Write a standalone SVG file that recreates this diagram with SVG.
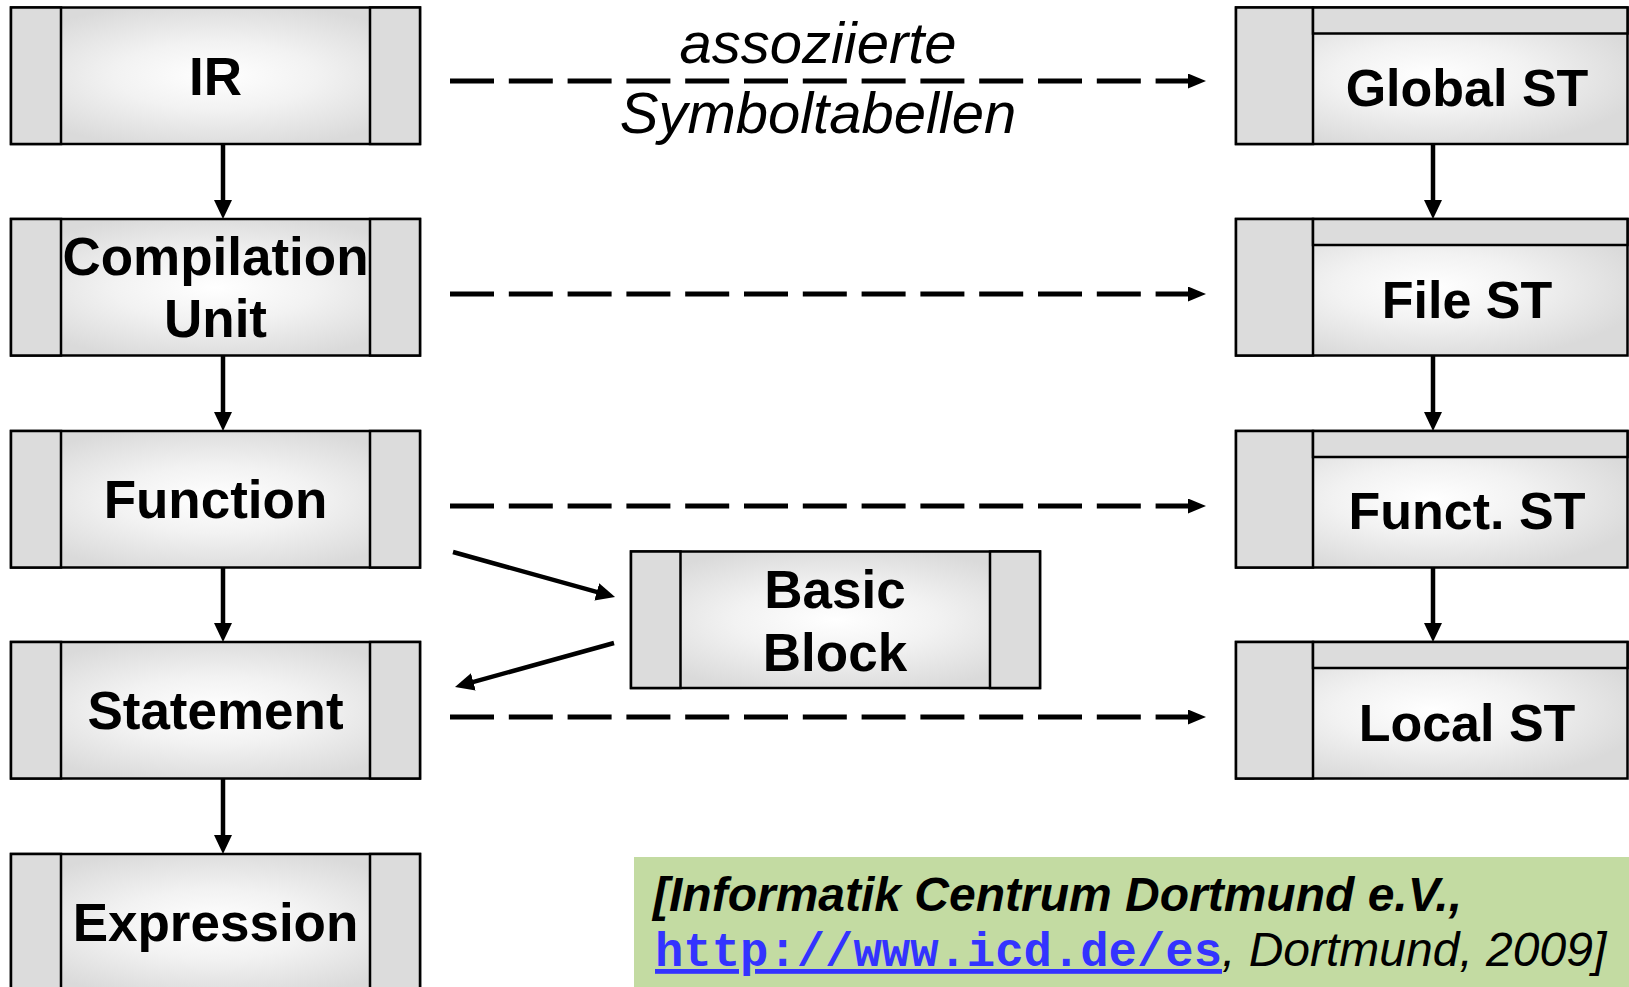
<svg xmlns="http://www.w3.org/2000/svg" width="1629" height="987" viewBox="0 0 1629 987">
<style>
.box{stroke:#000;stroke-width:2.5;fill:url(#g)}
.side{stroke:#000;stroke-width:2.5;fill:#dcdcdc}
.lbl{font-family:"Liberation Sans",Arial,sans-serif;font-weight:bold;font-size:53px;text-anchor:middle;fill:#000}
.rl{font-family:"Liberation Sans",Arial,sans-serif;font-weight:bold;font-size:52px;text-anchor:middle;fill:#000}
.conn{stroke:#000;stroke-width:4.5;fill:none}
.dash{stroke:#000;stroke-width:5;fill:none;stroke-dasharray:44 14.8}
.it{font-family:"Liberation Sans",Arial,sans-serif;font-style:italic;font-size:58px;text-anchor:middle;fill:#000}
</style>
<defs>
<radialGradient id="g" cx="0.5" cy="0.5" r="0.55">
<stop offset="0" stop-color="#ffffff"/>
<stop offset="0.45" stop-color="#f2f2f2"/>
<stop offset="1" stop-color="#dadada"/>
</radialGradient>
<marker id="ah" markerUnits="userSpaceOnUse" markerWidth="19" markerHeight="18" refX="10" refY="9" orient="auto" viewBox="0 0 19 18">
<path d="M0,0 L19,9 L0,18 z" fill="#000"/>
</marker>
<marker id="dh" markerUnits="userSpaceOnUse" markerWidth="18" markerHeight="15" refX="2" refY="7.5" orient="auto" viewBox="0 0 18 15">
<path d="M0,0 L18,7.5 L0,15 z" fill="#000"/>
</marker>
</defs>
<rect width="1629" height="987" fill="#fff"/>

<g id="IR">
<rect class="box" x="11" y="7.5" width="409" height="136.5"/>
<rect class="side" x="11" y="7.5" width="50" height="136.5"/>
<rect class="side" x="370" y="7.5" width="50" height="136.5"/>
<text class="lbl" x="215.5" y="95">IR</text>
</g>
<g id="CompilationUnit">
<rect class="box" x="11" y="219" width="409" height="136.5"/>
<rect class="side" x="11" y="219" width="50" height="136.5"/>
<rect class="side" x="370" y="219" width="50" height="136.5"/>
<text class="lbl" x="215.5" y="275">Compilation</text>
<text class="lbl" x="215.5" y="337">Unit</text>
</g>
<g id="Function">
<rect class="box" x="11" y="431" width="409" height="136.5"/>
<rect class="side" x="11" y="431" width="50" height="136.5"/>
<rect class="side" x="370" y="431" width="50" height="136.5"/>
<text class="lbl" x="215.5" y="518">Function</text>
</g>
<g id="Statement">
<rect class="box" x="11" y="642" width="409" height="136.5"/>
<rect class="side" x="11" y="642" width="50" height="136.5"/>
<rect class="side" x="370" y="642" width="50" height="136.5"/>
<text class="lbl" x="215.5" y="729">Statement</text>
</g>
<g id="Expression">
<rect class="box" x="11" y="854" width="409" height="140"/>
<rect class="side" x="11" y="854" width="50" height="140"/>
<rect class="side" x="370" y="854" width="50" height="140"/>
<text class="lbl" x="215.5" y="941">Expression</text>
</g>

<g id="BasicBlock">
<rect class="box" x="631" y="551.5" width="409" height="136.5"/>
<rect class="side" x="631" y="551.5" width="49.5" height="136.5"/>
<rect class="side" x="990" y="551.5" width="50" height="136.5"/>
<text class="lbl" x="835" y="608">Basic</text>
<text class="lbl" x="835" y="671">Block</text>
</g>

<g id="GlobalST">
<rect class="box" x="1236" y="7.5" width="391.5" height="136.5"/>
<rect class="side" x="1236" y="7.5" width="77" height="136.5"/>
<rect class="side" x="1313" y="7.5" width="314.5" height="26"/>
<text class="rl" x="1467" y="106">Global ST</text>
</g>
<g id="FileST">
<rect class="box" x="1236" y="219" width="391.5" height="136.5"/>
<rect class="side" x="1236" y="219" width="77" height="136.5"/>
<rect class="side" x="1313" y="219" width="314.5" height="26"/>
<text class="rl" x="1467" y="318">File ST</text>
</g>
<g id="FunctST">
<rect class="box" x="1236" y="431" width="391.5" height="136.5"/>
<rect class="side" x="1236" y="431" width="77" height="136.5"/>
<rect class="side" x="1313" y="431" width="314.5" height="26"/>
<text class="rl" x="1467" y="529">Funct. ST</text>
</g>
<g id="LocalST">
<rect class="box" x="1236" y="642" width="391.5" height="136.5"/>
<rect class="side" x="1236" y="642" width="77" height="136.5"/>
<rect class="side" x="1313" y="642" width="314.5" height="26"/>
<text class="rl" x="1467" y="741">Local ST</text>
</g>

<g id="connectors">
<line class="conn" x1="223" y1="144" x2="223" y2="210" marker-end="url(#ah)"/>
<line class="conn" x1="223" y1="355.5" x2="223" y2="422" marker-end="url(#ah)"/>
<line class="conn" x1="223" y1="567.5" x2="223" y2="633" marker-end="url(#ah)"/>
<line class="conn" x1="223" y1="778.5" x2="223" y2="845" marker-end="url(#ah)"/>
<line class="conn" x1="1433" y1="144" x2="1433" y2="210" marker-end="url(#ah)"/>
<line class="conn" x1="1433" y1="355.5" x2="1433" y2="422" marker-end="url(#ah)"/>
<line class="conn" x1="1433" y1="567.5" x2="1433" y2="633" marker-end="url(#ah)"/>
<line class="dash" x1="450" y1="81" x2="1190" y2="81" marker-end="url(#dh)"/>
<line class="dash" x1="450" y1="294" x2="1190" y2="294" marker-end="url(#dh)"/>
<line class="dash" x1="450" y1="506" x2="1190" y2="506" marker-end="url(#dh)"/>
<line class="dash" x1="450" y1="717" x2="1190" y2="717" marker-end="url(#dh)"/>
<line class="conn" x1="453" y1="552" x2="606.4" y2="594.6" marker-end="url(#ah)"/>
<line class="conn" x1="614" y1="643" x2="463.7" y2="684.6" marker-end="url(#ah)"/>
<text class="it" x="818" y="63">assoziierte</text>
<text class="it" x="818" y="133">Symboltabellen</text>
</g>

<g id="citation">
<rect x="634" y="857" width="1000" height="135" fill="#c3dba2"/>
<text x="653" y="911" style="font-family:'Liberation Sans',Arial,sans-serif;font-weight:bold;font-style:italic;font-size:48px">[Informatik Centrum Dortmund e.V.,</text>
<text x="655" y="966" style="font-family:'Liberation Sans',Arial,sans-serif;font-style:italic;font-size:48px"><tspan style="font-family:'Liberation Mono','Courier New',monospace;font-weight:bold;font-style:normal;fill:#3333ff;text-decoration:underline" textLength="567" lengthAdjust="spacingAndGlyphs">http://www.icd.de/es</tspan>, Dortmund, 2009]</text>
</g>
</svg>
